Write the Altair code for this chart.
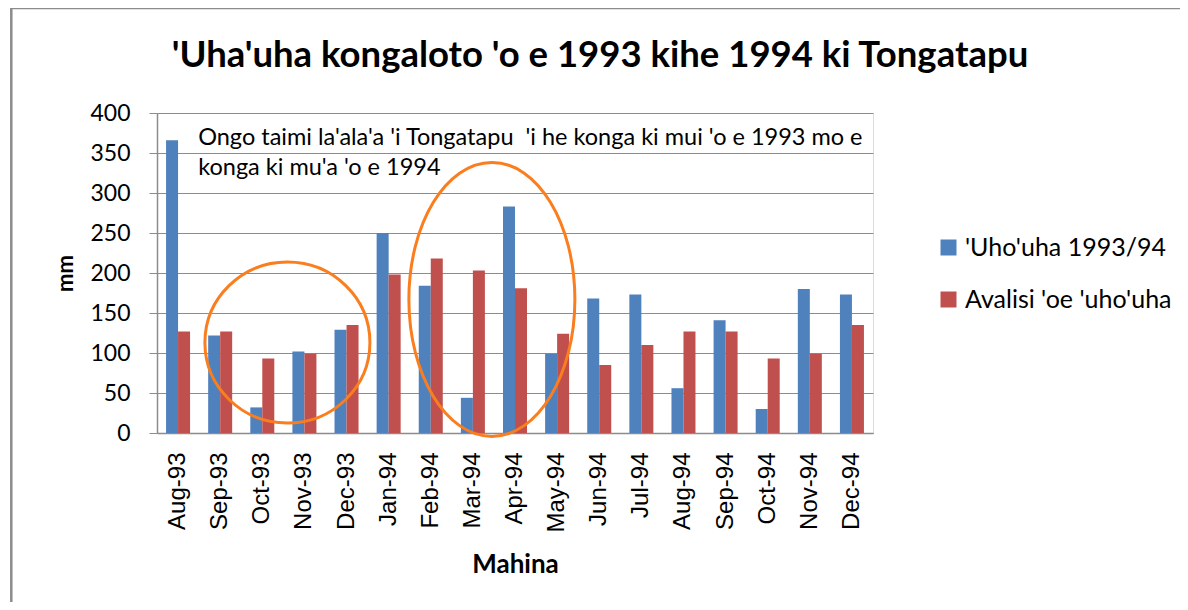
import altair as alt
import pandas as pd

months = ["Aug-93", "Sep-93", "Oct-93", "Nov-93", "Dec-93", "Jan-94", "Feb-94",
          "Mar-94", "Apr-94", "May-94", "Jun-94", "Jul-94", "Aug-94", "Sep-94",
          "Oct-94", "Nov-94", "Dec-94"]
rain_9394 = [366, 122, 32, 102, 129, 250, 184, 44, 283, 99, 168, 173, 56, 141, 30, 180, 173]
rain_avg = [127, 127, 93, 99, 135, 198, 218, 203, 181, 124, 85, 110, 127, 127, 93, 99, 135]
series_names = ["'Uho'uha 1993/94", "Avalisi 'oe 'uho'uha"]
series_colors = ["#4F81BD", "#C0504D"]
y_ticks = [0, 50, 100, 150, 200, 250, 300, 350, 400]

title_text = "'Uha'uha kongaloto 'o e 1993 kihe 1994 ki Tongatapu"
note_text = "Ongo taimi la'ala'a 'i Tongatapu \u00a0'i he konga ki mui 'o e 1993 mo e\nkonga ki mu'a 'o e 1994"
note_month = ["Sep-93"]
note_level = [360]
highlight_months = ["Nov-93", "Mar-94"]
highlight_levels = [113, 167]

rows = []
for m, a, b in zip(months, rain_9394, rain_avg):
    rows.append({"month": m, "series": series_names[0], "value": a})
    rows.append({"month": m, "series": series_names[1], "value": b})
df = pd.DataFrame(rows)

GRAY = "#8c8c8c"
ORANGE = "#FA7D1E"
W, H = 716, 320

x_scale = alt.Scale(domain=months, paddingInner=0.43, paddingOuter=0.215)
y_scale = alt.Scale(domain=[0, 400], nice=False)

x_axis = alt.Axis(title="Mahina", labelAngle=-90, ticks=False, tickSize=0,
                  labelPadding=19, labelFont="Liberation Sans", labelFontSize=24,
                  labelColor="#000000", domainColor=GRAY, domainWidth=1.5,
                  labelOverlap=False,
                  titleFont="Lato", titleFontSize=26, titleFontWeight="bold",
                  titleColor="#000000", titlePadding=19, grid=False)

y_axis = alt.Axis(title="mm", values=y_ticks, tickSize=8, tickColor=GRAY,
                  labelPadding=19, labelFont="Lato", labelFontSize=23,
                  labelColor="#000000", domainColor=GRAY, domainWidth=1.5,
                  labelOverlap=False, grid=True,
                  gridColor=GRAY, gridWidth=1.2,
                  titleFont="Lato", titleFontSize=22, titleFontWeight="bold",
                  titleColor="#000000", titlePadding=12)


def xe(**kw):
    return alt.X("month:N", scale=x_scale, sort=months, axis=x_axis, **kw)


def ye():
    return alt.Y("value:Q", scale=y_scale, axis=y_axis)


bars = alt.Chart(df).mark_bar().encode(
    x=xe(),
    xOffset=alt.XOffset("series:N", sort=series_names,
                        scale=alt.Scale(domain=series_names, paddingInner=0, paddingOuter=0)),
    y=ye(),
    color=alt.Color("series:N", sort=series_names,
                    scale=alt.Scale(domain=series_names, range=series_colors),
                    legend=alt.Legend(title=None, orient="none", legendX=779, legendY=122,
                                      symbolType="square", symbolSize=256,
                                      symbolStrokeWidth=0, labelFont="Lato",
                                      labelFontSize=25, labelColor="#000000",
                                      labelLimit=300, rowPadding=26, labelOffset=4,
                                      padding=0)),
)

note_df = pd.DataFrame({"month": note_month, "value": note_level, "label": [note_text]})
note = alt.Chart(note_df).mark_text(align="left", baseline="alphabetic", font="Lato",
                                    fontSize=23.5, lineHeight=30, lineBreak="\n", dx=-10,
                                    color="#000000").encode(
    x=xe(bandPosition=0),
    y=ye(),
    text="label:N",
)


def ellipse(month, level, rx, ry, shift):
    # elliptical outline drawn as a custom symbol; shift moves it sideways (pixels)
    size = (2 * ry) ** 2
    r = rx / ry
    c = shift / ry
    path = (f"M {c - r:.4f} 0 A {r:.4f} 1 0 1 0 {c + r:.4f} 0 "
            f"A {r:.4f} 1 0 1 0 {c - r:.4f} 0 Z")
    d = pd.DataFrame({"month": [month], "value": [level]})
    return alt.Chart(d).mark_point(shape=path, size=size, filled=False, stroke=ORANGE,
                                   strokeWidth=3, opacity=1).encode(x=xe(), y=ye())


e1 = ellipse(highlight_months[0], highlight_levels[0], 82.5, 80.5, -17)
e2 = ellipse(highlight_months[1], highlight_levels[1], 83, 137, 19)

title = alt.Chart(alt.Data(values=[{"t": title_text}])).mark_text(
    font="Lato", fontSize=36.5, fontWeight="bold", color="#000000",
    align="center", baseline="alphabetic").encode(
    x=alt.value(443), y=alt.value(-46), text="t:N")

border_left = alt.Chart(alt.Data(values=[{}])).mark_rule(color=GRAY, strokeWidth=2.5).encode(
    x=alt.value(-145.7), y=alt.value(-105), y2=alt.value(489))
border_top = alt.Chart(alt.Data(values=[{}])).mark_rule(color=GRAY, strokeWidth=2).encode(
    x=alt.value(-147), x2=alt.value(1023), y=alt.value(-104.7))

chart = alt.layer(bars, note, e1, e2, title, border_left, border_top).properties(
    width=W, height=H,
    autosize=alt.AutoSizeParams(type="none"),
    padding={"left": 149, "top": 105, "right": 307, "bottom": 169},
).configure_view(strokeWidth=0, stroke="transparent").configure(background="#ffffff")

chart.save("out.html", embed_options={"renderer": "svg", "actions": False})
